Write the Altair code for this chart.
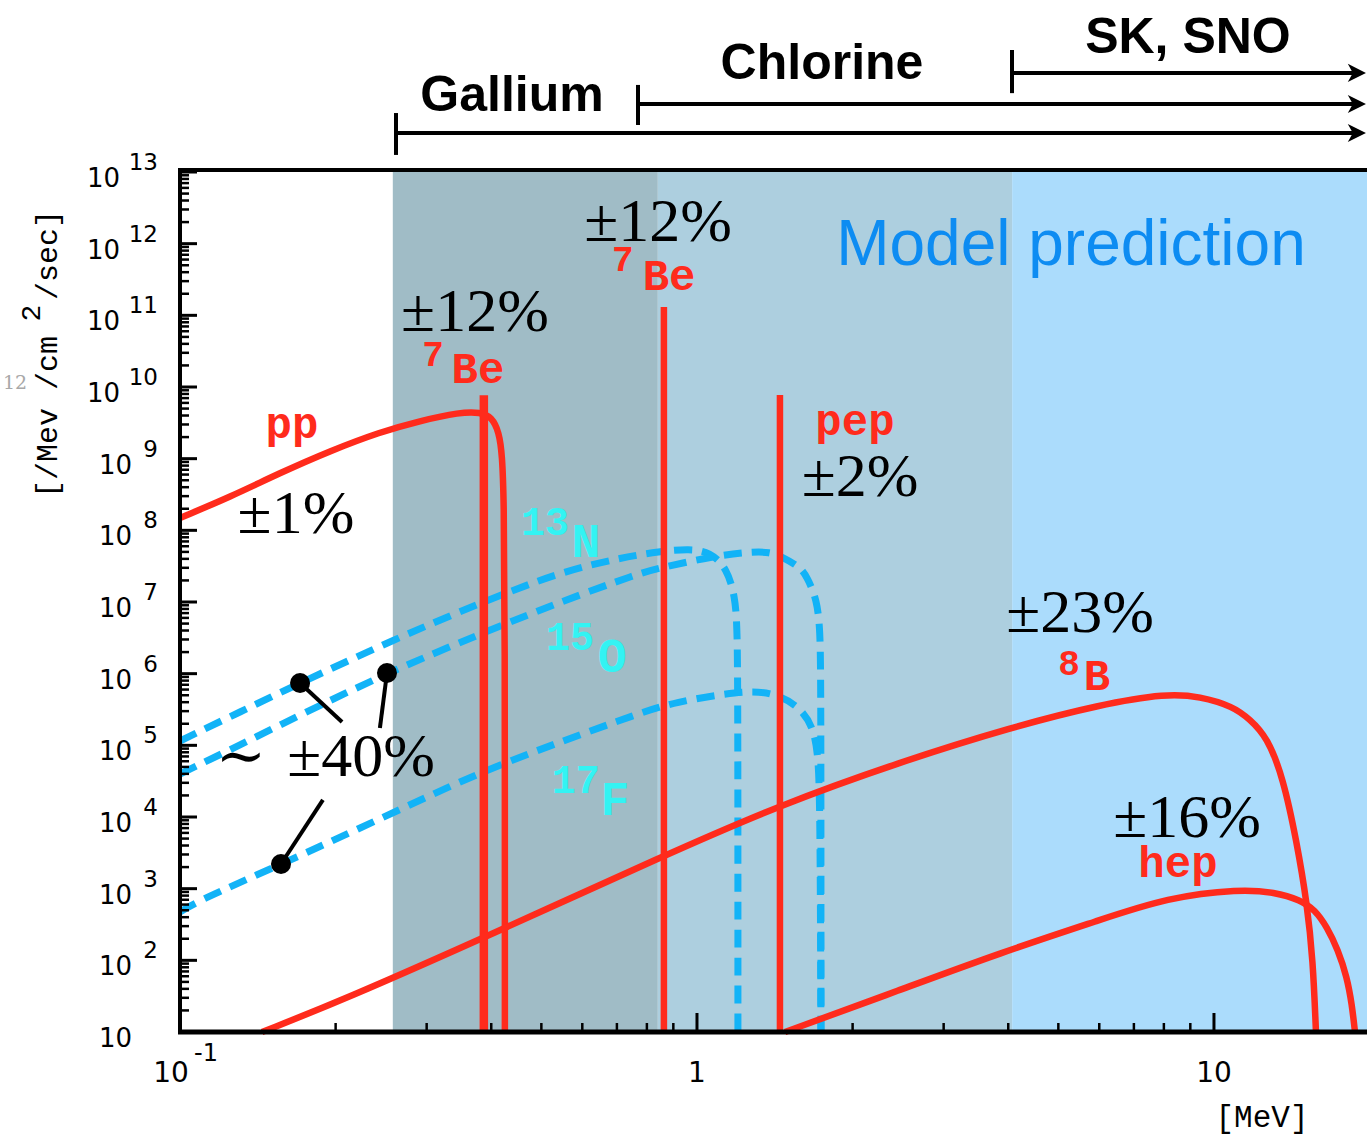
import altair as alt
import pandas as pd

# ---------------- data ----------------
# pp continuum
pp_energy = [0.1, 0.125, 0.156, 0.195, 0.244, 0.291, 0.348, 0.381, 0.401, 0.414, 0.420, 0.423, 0.425, 0.425]
pp_flux = [1.49e8, 2.92e8, 6.31e8, 1.28e9, 2.36e9, 3.36e9, 4.45e9, 4.45e9, 3.80e9, 2.36e9, 1.13e9, 2.65e8, 1.07e7, 10]
# 8B continuum
b8_energy = [0.1441, 0.2067, 0.398, 0.868, 1.447, 2.470, 4.068, 6.02, 8.11, 9.40, 10.88, 11.74, 12.66, 13.60, 14.47, 15.13, 15.54, 15.75]
b8_flux = [10, 28.0, 226, 2951, 1.47e4, 5.86e4, 1.80e5, 3.70e5, 5.30e5, 4.80e5, 3.50e5, 2.30e5, 1.31e5, 3.62e4, 4.35e3, 632, 101, 10]
# hep continuum
hep_energy = [1.480, 2.470, 3.856, 6.02, 8.11, 11.23, 13.12, 14.67, 15.68, 16.54, 17.37, 18.08, 18.49, 18.74]
hep_flux = [10, 38.6, 127, 366, 750, 990, 890, 700, 505, 292, 140, 58.6, 23.8, 10]
# CNO continua
n13_energy = [0.1, 0.1306, 0.1707, 0.2582, 0.3805, 0.5433, 0.7097, 0.848, 0.969, 1.059, 1.143, 1.185, 1.195, 1.2, 1.2]
n13_flux = [1.15e5, 2.92e5, 7.41e5, 2.95e6, 9.68e6, 2.62e7, 4.11e7, 5.10e7, 5.50e7, 5.00e7, 2.98e7, 1.17e7, 4.78e6, 8.17e5, 10]
o15_energy = [0.1, 0.1306, 0.1707, 0.2514, 0.3805, 0.5433, 0.7757, 0.848, 1.074, 1.266, 1.384, 1.467, 1.582, 1.633, 1.707, 1.730, 1.737, 1.737]
o15_flux = [3.98e4, 1.01e5, 2.65e5, 1.02e6, 3.58e6, 1.0e7, 2.54e7, 2.98e7, 4.35e7, 5.00e7, 5.00e7, 4.20e7, 3.08e7, 2.23e7, 1.07e7, 4.07e6, 8.17e5, 10]
f17_energy = [0.1, 0.1093, 0.156, 0.2436, 0.3805, 0.5433, 0.7757, 0.8986, 1.212, 1.403, 1.582, 1.677, 1.714, 1.730, 1.737]
f17_flux = [473, 695, 2143, 9397, 4.25e4, 1.11e5, 2.83e5, 3.95e5, 5.75e5, 5.55e5, 3.43e5, 1.80e5, 7.82e4, 1.73e4, 10]
# mono-energetic lines (7Be 0.384, 7Be 0.862, pep 1.442)
line_names = ["7Be_384", "7Be_862", "pep"]
line_energy = [0.387, 0.863, 1.447]
line_top = [7.7e9, 1.31e11, 7.74e9]
# detector thresholds (bands) and arrows
band_names = ["Gallium", "Chlorine", "SK, SNO"]
band_lo = [0.258, 0.84, 4.07]
band_hi = [0.84, 4.07, 19.77]
arrow_start = [0.2617, 0.769, 4.068]
arrow_end = [19.2, 19.2, 19.2]
arrow_level = [3.50e13, 8.89e13, 2.41e14]
arrow_bar_top = [6.65e13, 1.64e14, 5.04e14]
arrow_bar_bot = [1.73e13, 4.53e13, 1.26e14]
arrow_head = [18.9, 18.9, 18.9]
det_label_x = [0.4387, 1.745, 8.906]
det_label_y = [7.10e13, 1.99e14, 4.57e14]
# error-annotation dots and their leader lines
dot_energy = [0.1707, 0.2514, 0.1568]
dot_flux = [7.41e5, 1.02e6, 2.21e3]
lead_energy = [0.2058, 0.2436, 0.189]
lead_flux = [2.12e5, 1.75e5, 1.73e4]
# text annotations
pct_text = ["±1%", "±12%", "±12%", "±2%", "±23%", "±16%", "±40%"]
pct_x = [0.1676, 0.372, 0.8405, 2.067, 5.506, 8.867, 0.2239]
pct_y = [9.18e7, 6.05e10, 1.09e12, 3.01e8, 3.82e6, 5.26e3, 3.73e4]
tilde_text = ["∼"]
tilde_x = [0.1312]
tilde_y = [3.73e4]
red_text = ["pp", "Be", "Be", "pep", "B", "hep"]
red_x = [0.1646, 0.377, 0.883, 2.021, 5.938, 8.519]
red_y = [1.94e9, 1.14e10, 2.26e11, 2.14e9, 5.92e5, 1.45e3]
redsup_text = ["7", "7", "8"]
redsup_x = [0.3085, 0.719, 5.243]
redsup_y = [1.95e10, 4.10e11, 9.59e5]
cyan_text = ["N", "O", "F"]
cyan_x = [0.610, 0.685, 0.694]
cyan_y = [4.25e7, 1.06e6, 1.07e4]
cyansup_text = ["13", "15", "17"]
cyansup_x = [0.508, 0.568, 0.583]
cyansup_y = [8.61e7, 2.14e6, 2.16e4]
model_text = ["Model prediction"]
model_x = [5.289]
model_y = [5.04e11]
# axis ticks / labels
y_decades = [10 ** k for k in range(1, 14)]
y_exponents = ["", "2", "3", "4", "5", "6", "7", "8", "9", "10", "11", "12", "13"]
y_minor = [m * 10 ** k for k in range(1, 13) for m in range(2, 10)]
x_major = [1, 10]
x_minor = [m * 10.0 ** k for k in (-1, 0) for m in range(2, 10)]

# ---------------- styles ----------------
W, H = 1187, 860
RED = "#ff2b1c"
BLUE = "#12b3f7"
CYAN = "#33f3f3"
xs = alt.Scale(type="log", domain=[0.1, 19.77], nice=False)
ys = alt.Scale(type="log", domain=[10, 1e13], nice=False)


def X(f):
    return alt.X(f, type="quantitative", scale=xs, axis=None)


def Y(f):
    return alt.Y(f, type="quantitative", scale=ys, axis=None)


def curves(pairs):
    rows = []
    for name, E, F in pairs:
        for i, (e, f) in enumerate(zip(E, F)):
            rows.append({"name": name, "E": e, "F": f, "i": i})
    return pd.DataFrame(rows)


red_df = curves([("pp", pp_energy, pp_flux), ("8B", b8_energy, b8_flux), ("hep", hep_energy, hep_flux)])
cno_df = curves([("13N", n13_energy, n13_flux), ("15O", o15_energy, o15_flux), ("17F", f17_energy, f17_flux)])

bands = pd.DataFrame({"name": band_names, "lo": band_lo, "hi": band_hi,
                      "top": [1e13] * 3, "bot": [10] * 3,
                      "c": ["#a0bcc6", "#adcfdf", "#abdcfc"]})
band_layer = alt.Chart(bands).mark_rect().encode(
    x=X("lo"), x2="hi", y=Y("top"), y2="bot", color=alt.Color("c:N", scale=None))

cno_layer = alt.Chart(cno_df).mark_line(color=BLUE, strokeWidth=7, strokeDash=[18, 10], interpolate="basis").encode(
    x=X("E"), y=Y("F"), detail="name:N", order="i:Q")
red_layer = alt.Chart(red_df).mark_line(color=RED, strokeWidth=6.5, interpolate="basis").encode(
    x=X("E"), y=Y("F"), detail="name:N", order="i:Q")

lines = pd.DataFrame({"name": line_names, "E": line_energy, "top": line_top, "bot": [10] * 3})
line_thick = alt.Chart(lines[lines.name == "7Be_384"]).mark_rule(color=RED, strokeWidth=8.5).encode(
    x=X("E"), y=Y("top"), y2="bot")
line_thin = alt.Chart(lines[lines.name != "7Be_384"]).mark_rule(color=RED, strokeWidth=6.5).encode(
    x=X("E"), y=Y("top"), y2="bot")

dots = pd.DataFrame({"E": dot_energy, "F": dot_flux, "E2": lead_energy, "F2": lead_flux})
lead_layer = alt.Chart(dots).mark_rule(color="black", strokeWidth=4).encode(
    x=X("E"), x2="E2", y=Y("F"), y2="F2")
dot_layer = alt.Chart(dots).mark_circle(color="black", size=400, opacity=1).encode(x=X("E"), y=Y("F"))

arrows = pd.DataFrame({"name": band_names, "s": arrow_start, "e": arrow_end, "lv": arrow_level,
                       "bt": arrow_bar_top, "bb": arrow_bar_bot, "h": arrow_head,
                       "lx": det_label_x, "ly": det_label_y})
arrow_line = alt.Chart(arrows).mark_rule(color="black", strokeWidth=4).encode(x=X("s"), x2="e", y=Y("lv"))
arrow_bar = alt.Chart(arrows).mark_rule(color="black", strokeWidth=4).encode(x=X("s"), y=Y("bt"), y2="bb")
arrow_head_layer = alt.Chart(arrows).mark_point(
    shape="M-1,-1L1,0L-1,1L-0.45,0Z", filled=True, color="black", size=330, opacity=1).encode(
    x=X("h"), y=Y("lv"))
det_text = alt.Chart(arrows).mark_text(font="Liberation Sans", fontSize=50, fontWeight="bold",
                                       align="center", baseline="alphabetic", color="black").encode(
    x=X("lx"), y=Y("ly"), text="name:N")


def text_layer(txt, xv, yv, **kw):
    df = pd.DataFrame({"t": txt, "E": xv, "F": yv})
    return alt.Chart(df).mark_text(align="center", baseline="alphabetic", **kw).encode(
        x=X("E"), y=Y("F"), text="t:N")


pct_layer = text_layer(pct_text, pct_x, pct_y, font="Liberation Serif", fontSize=62, color="black")
tilde_layer = text_layer(tilde_text, tilde_x, tilde_y, font="DejaVu Serif", fontSize=60, color="black")
red_txt = text_layer(red_text, red_x, red_y, font="Liberation Mono", fontSize=44, fontWeight="bold", color=RED)
redsup_txt = text_layer(redsup_text, redsup_x, redsup_y, font="Liberation Mono", fontSize=36, fontWeight="bold", color=RED)
cyan_txt = text_layer(cyan_text, cyan_x, cyan_y, font="Liberation Mono", fontSize=48, fontWeight="bold", color=CYAN)
cyansup_txt = text_layer(cyansup_text, cyansup_x, cyansup_y, font="Liberation Mono", fontSize=40, fontWeight="bold", color=CYAN)
model_txt = text_layer(model_text, model_x, model_y, font="Liberation Sans", fontSize=64, color="#0d8cf2")

# ---------------- frame, ticks and tick labels ----------------
one = alt.Data(values=[{"a": 1}])
frame_left = alt.Chart(one).mark_rule(color="black", strokeWidth=4).encode(
    x=alt.value(0), y=alt.value(-4), y2=alt.value(862))
frame_bottom = alt.Chart(one).mark_rule(color="black", strokeWidth=5).encode(
    x=alt.value(-2), x2=alt.value(W), y=alt.value(H))
frame_top = alt.Chart(one).mark_rule(color="black", strokeWidth=4).encode(
    x=alt.value(-2), x2=alt.value(W), y=alt.value(-2))

ymaj = pd.DataFrame({"F": y_decades, "ex": y_exponents})
ymaj["n"] = ymaj["ex"].str.len()
ymin = pd.DataFrame({"F": y_minor})
ytick_major = alt.Chart(ymaj).mark_rule(color="black", strokeWidth=3).encode(
    x=alt.value(0), x2=alt.value(17), y=Y("F"))
ytick_minor = alt.Chart(ymin).mark_rule(color="black", strokeWidth=2.5).encode(
    x=alt.value(0), x2=alt.value(9), y=Y("F"))
xtick_major = alt.Chart(pd.DataFrame({"E": x_major})).mark_rule(color="black", strokeWidth=3).encode(
    x=X("E"), y=alt.value(H), y2=alt.value(H - 19))
xtick_minor = alt.Chart(pd.DataFrame({"E": x_minor})).mark_rule(color="black", strokeWidth=2.5).encode(
    x=X("E"), y=alt.value(H), y2=alt.value(H - 9))

base_font = dict(font="DejaVu Sans", fontSize=26, color="black")
exp_font = dict(font="DejaVu Sans", fontSize=23, color="black")
ylab_10_wide = alt.Chart(ymaj[ymaj.n == 2]).mark_text(align="right", baseline="middle", dy=7, **base_font).encode(
    x=alt.value(-60), y=Y("F"), text=alt.value("10"))
ylab_10_narrow = alt.Chart(ymaj[ymaj.n < 2]).mark_text(align="right", baseline="middle", dy=7, **base_font).encode(
    x=alt.value(-48), y=Y("F"), text=alt.value("10"))
ylab_exp = alt.Chart(ymaj[ymaj.n > 0]).mark_text(align="right", baseline="middle", dy=-9, **exp_font).encode(
    x=alt.value(-22), y=Y("F"), text="ex:N")

xlab_df = pd.DataFrame({"E": [0.1, 1, 10], "t": ["10", "1", "10"], "sup": ["-1", "", ""]})
xlab_main = alt.Chart(xlab_df.iloc[1:]).mark_text(align="center", baseline="middle", fontSize=28,
                                                   font="DejaVu Sans", color="black").encode(
    x=X("E"), y=alt.value(H + 42), text="t:N")
xlab_first = alt.Chart(xlab_df.iloc[:1]).mark_text(align="center", baseline="middle", fontSize=28, dx=-9,
                                                    font="DejaVu Sans", color="black").encode(
    x=X("E"), y=alt.value(H + 42), text="t:N")
xlab_sup = alt.Chart(xlab_df.iloc[:1]).mark_text(align="center", baseline="middle", fontSize=24, dx=26,
                                                  font="DejaVu Sans", color="black").encode(
    x=X("E"), y=alt.value(H + 22), text="sup:N")

mono = dict(font="Liberation Mono", color="black")
xtitle = alt.Chart(one).mark_text(align="center", baseline="middle", fontSize=31, **mono).encode(
    x=alt.value(1082), y=alt.value(H + 86), text=alt.value("[MeV]"))
yt1 = alt.Chart(one).mark_text(align="left", baseline="middle", angle=270, fontSize=30, **mono).encode(
    x=alt.value(-132), y=alt.value(326), text=alt.value("[/Mev /cm"))
yt2 = alt.Chart(one).mark_text(align="center", baseline="middle", angle=270, fontSize=28, **mono).encode(
    x=alt.value(-148), y=alt.value(141), text=alt.value("2"))
yt3 = alt.Chart(one).mark_text(align="left", baseline="middle", angle=270, fontSize=30, **mono).encode(
    x=alt.value(-132), y=alt.value(128), text=alt.value("/sec]"))
ghost = alt.Chart(one).mark_text(align="center", baseline="middle", fontSize=19, font="DejaVu Serif",
                                 color="#a8a8a8").encode(
    x=alt.value(-165), y=alt.value(211), text=alt.value("12"))

chart = alt.layer(
    band_layer, cno_layer, red_layer, line_thick, line_thin,
    lead_layer, dot_layer,
    arrow_line, arrow_bar, arrow_head_layer, det_text,
    pct_layer, tilde_layer, red_txt, redsup_txt, cyan_txt, cyansup_txt, model_txt,
    ytick_major, ytick_minor, xtick_major, xtick_minor,
    frame_left, frame_bottom, frame_top,
    ylab_10_wide, ylab_10_narrow, ylab_exp, xlab_main, xlab_first, xlab_sup,
    xtitle, yt1, yt2, yt3, ghost,
).properties(
    width=W, height=H,
    padding={"left": 180, "top": 172, "right": 0, "bottom": 106},
    autosize=alt.AutoSizeParams(type="none"),
    background="white",
).configure_view(stroke=None)

chart.save("out.html", embed_options={"renderer": "svg", "actions": False})
